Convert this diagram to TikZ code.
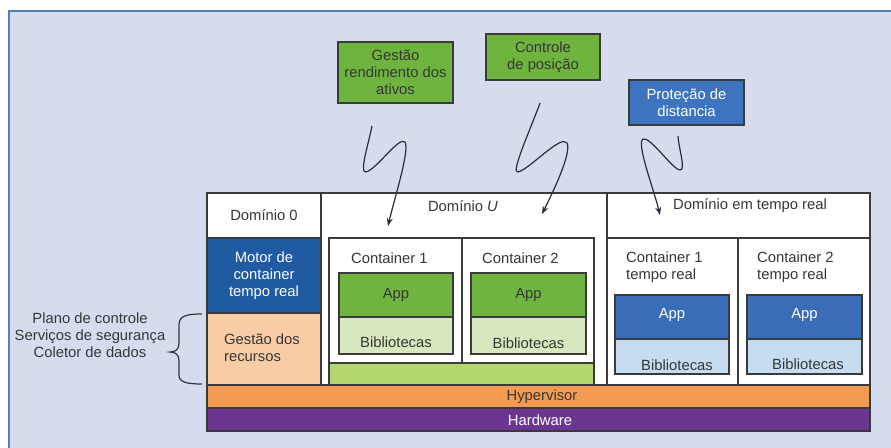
\documentclass[tikz,border=0pt]{standalone}
\usepackage{fontspec}
\setmainfont{Liberation Sans}
\usetikzlibrary{arrows.meta}

\definecolor{panelbg}{HTML}{D4DCEE}
\definecolor{panelframe}{HTML}{4F7FBE}
\definecolor{linec}{HTML}{3A3A3A}
\definecolor{textc}{HTML}{363636}
\definecolor{appgreen}{HTML}{6FB43F}
\definecolor{libgreen}{HTML}{D8E8BE}
\definecolor{bargreen}{HTML}{B4D66C}
\definecolor{motorblue}{HTML}{1F5AA3}
\definecolor{appblue}{HTML}{3A6DB7}
\definecolor{protblue}{HTML}{3D74BF}
\definecolor{libblue}{HTML}{C6DCF1}
\definecolor{peach}{HTML}{F8CCA6}
\definecolor{hyporange}{HTML}{F49B52}
\definecolor{hwpurple}{HTML}{6C3592}
\definecolor{wirec}{HTML}{2B2D3C}

\begin{document}
\begin{tikzpicture}[x=1pt,y=-1pt,
  blk/.style={draw=linec, line width=1.3pt, inner sep=0pt, outer sep=0pt,
    font=\fontsize{14.8}{17}\selectfont, text=textc, align=center},
  txt/.style={font=\fontsize{14.8}{17}\selectfont, text=textc, inner sep=0pt},
  wire/.style={draw=wirec, line width=1.2pt, -{Stealth[length=8pt,width=6pt]}},
  brace/.style={draw=textc, line width=1.2pt}]
\useasboundingbox (0,0) rectangle (891,447);
\clip (0,0) rectangle (891,447);

% panel
\fill[white] (0,0) rectangle (891,447);
\draw[draw=panelframe, fill=panelbg, line width=2pt] (9,11) rectangle (905,460);

% application boxes on top
\node[blk, fill=appgreen, minimum width=115pt, minimum height=61pt] (gra) at (395.5,72.5)
  {Gestão\\rendimento dos\\ativos};
\node[blk, fill=appgreen, minimum width=114pt, minimum height=46pt] (cpos) at (543,57)
  {Controle\\de posição};
\node[blk, fill=protblue, text=white, minimum width=115pt, minimum height=45pt] (pdist) at (686.5,102.5)
  {Proteção de\\distancia};

% domain 0 column
\node[blk, fill=white, minimum width=114pt, minimum height=45pt] (dom0) at (264,215.5) {Domínio 0};
\node[blk, fill=motorblue, text=white, minimum width=114pt, minimum height=75pt] (motor) at (264,275.5)
  {Motor de\\container\\tempo real};
\node[blk, fill=peach, minimum width=114pt, minimum height=72pt] (gest) at (264,349) {};
\node[txt, align=left] (gesttxt) at (262,348) {Gestão dos\\recursos};

% domain U
\node[blk, fill=white, minimum width=286pt, minimum height=192pt] (domu) at (464,289) {};
\node[txt] (domutxt) at (463,206) {Domínio \textit{U}};
\node[blk, fill=white, minimum width=133pt, minimum height=125pt] (cu1) at (395.5,300.5) {};
\node[blk, fill=white, minimum width=132pt, minimum height=125pt] (cu2) at (528,300.5) {};
\node[blk, fill=bargreen, minimum width=265pt, minimum height=22pt] (gbar) at (461.5,374) {};
\node[txt, anchor=west] (cu1txt) at (351,258) {Container 1};
\node[txt, anchor=west] (cu2txt) at (482,258) {Container 2};
\node[blk, fill=appgreen, minimum width=114pt, minimum height=44pt] (app1) at (396,295) {App};
\node[blk, fill=libgreen, minimum width=114pt, minimum height=37pt] (lib1) at (396,335.5) {};
\node[txt] (lib1txt) at (396,342) {Bibliotecas};
\node[blk, fill=appgreen, minimum width=115pt, minimum height=44pt] (app2) at (528.5,295) {App};
\node[blk, fill=libgreen, minimum width=115pt, minimum height=37pt] (lib2) at (528.5,335.5) {};
\node[txt] (lib2txt) at (528.5,343) {Bibliotecas};

% real-time domain
\node[blk, fill=white, minimum width=263pt, minimum height=45pt] (domrt) at (738.5,215.5) {};
\node[txt] (domrttxt) at (750,206) {Domínio em tempo real};
\node[blk, fill=white, minimum width=131pt, minimum height=147pt] (rc1) at (672.5,311.5) {};
\node[blk, fill=white, minimum width=132pt, minimum height=147pt] (rc2) at (804,311.5) {};
\node[txt, anchor=west, align=left] (rc1txt) at (626,267) {Container 1\\tempo real};
\node[txt, anchor=west, align=left] (rc2txt) at (757,267) {Container 2\\tempo real};
\node[blk, fill=appblue, text=white, minimum width=114pt, minimum height=44pt] (rapp1) at (672,317) {};
\node[txt, text=white] (rapp1txt) at (672,315) {App};
\node[blk, fill=libblue, minimum width=114pt, minimum height=35pt] (rlib1) at (672,356.5) {};
\node[txt] (rlib1txt) at (677,365) {Bibliotecas};
\node[blk, fill=appblue, text=white, minimum width=115pt, minimum height=44pt] (rapp2) at (804.5,317) {};
\node[txt, text=white] (rapp2txt) at (804.5,315) {App};
\node[blk, fill=libblue, minimum width=115pt, minimum height=35pt] (rlib2) at (804.5,356.5) {};
\node[txt] (rlib2txt) at (808,364) {Bibliotecas};

% platform layers
\node[blk, fill=hyporange, minimum width=663pt, minimum height=23pt] (hyp) at (538.5,396.5) {};
\node[txt] (hyptxt) at (542,397) {Hypervisor};
\node[blk, fill=hwpurple, minimum width=663pt, minimum height=23pt] (hw) at (538.5,419.5) {};
\node[txt, text=white] (hwtxt) at (540,420) {Hardware};

% control-plane services
\node[txt, align=center] (ctrl) at (90,335)
  {Plano de controle\\Serviços de segurança\\Coletor de dados};
\coordinate (btop) at (202,314);
\coordinate (bbot) at (202,384);
\draw[brace] (btop) .. controls (186,314) and (179,316) .. (179,325)
  -- (179,343) .. controls (179,349) and (176,352) .. (170,352)
  .. controls (176,352) and (179,355) .. (179,361)
  -- (179,375) .. controls (179,382) and (186,384) .. (bbot);

% wireless links into the domains
\coordinate (w1s) at (372,126);
\coordinate (w1e) at (388,226);
\draw[wire] (w1s) .. controls (368,146) and (359,173) .. (366,172)
  .. controls (377,169) and (399,136) .. (405,142)
  .. controls (410,150) and (394,200) .. (w1e);
\coordinate (w2s) at (540,103);
\coordinate (w2e) at (542,214);
\draw[wire] (w2s) .. controls (531,128) and (510,174) .. (518,172)
  .. controls (530,169) and (561,134) .. (567,143)
  .. controls (572,153) and (552,194) .. (w2e);
\coordinate (w3s) at (678,136);
\coordinate (w3e) at (660,215);
\draw[wire] (w3s) .. controls (679,150) and (686,170) .. (680,170)
  .. controls (673,170) and (650,136) .. (643,139)
  .. controls (636,143) and (654,190) .. (w3e);
\end{tikzpicture}
\end{document}
